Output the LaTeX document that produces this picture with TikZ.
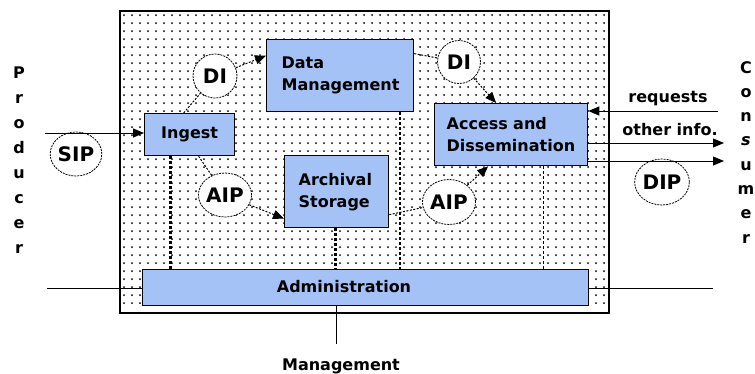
\documentclass[tikz,border=0pt]{standalone}
\usepackage{fontspec}
\setmainfont{DejaVu Sans}
\usetikzlibrary{arrows.meta,shapes.geometric,calc}
\definecolor{boxblue}{RGB}{164,194,246}

\begin{document}
\begin{tikzpicture}[x=1pt, y=-1pt, >={Triangle[length=11pt,width=9pt]},
    every node/.style={font=\fontsize{16}{22}\selectfont\bfseries},
    box/.style={draw, line width=1.3pt, fill=boxblue, anchor=north west, inner ysep=0pt, align=left},
    bub/.style={ellipse, draw, line width=0.8pt, dash pattern=on 2pt off 1pt, fill=white, inner sep=0pt,
      font=\fontsize{20}{24}\selectfont\bfseries},
    flow/.style={dash pattern=on 2pt off 1.5pt, line width=1pt},
    ctl/.style={line width=2.5pt, dash pattern=on 2.5pt off 2.5pt},
    letter/.style={anchor=base, font=\fontsize{16}{18}\selectfont\bfseries},
    wire/.style={line width=1pt}]
  \useasboundingbox (0,0) rectangle (755,373);
  % Archive frame with dot fill
  \fill[white] (120,11) rectangle (609,313);
  \foreach \x in {124,132,...,604}
    \foreach \y in {15,23,...,309}
      \fill[black] (\x,\y) circle (1pt);
  \draw[line width=1.8pt] (120,11) rectangle (609,313);
  % Functional entities
  \node[box, align=center, inner xsep=15pt, text width=60pt, minimum height=42pt] (ingest) at (144,113) {Ingest};
  \node[box, inner xsep=15pt, text width=117pt, minimum height=72pt] (dm) at (266,39) {Data\\Management};
  \node[box, inner xsep=14pt, text width=76pt, minimum height=72pt] (arch) at (284,155) {Archival\\Storage};
  \node[box, inner xsep=12pt, text width=129pt, minimum height=62pt] (acc) at (434,103) {Access and\\Dissemination};
  \node[box, inner sep=0pt, minimum width=446pt, minimum height=36pt] (adm) at (142,269) {};
  \node[anchor=base] (admlabel) at (344,292) {Administration};
  % Information packages
  \node[bub, minimum width=44pt, minimum height=44pt] (di1) at (215,76) {DI};
  \node[bub, minimum width=43pt, minimum height=43pt] (di2) at (459,62) {DI};
  \node[bub, minimum width=46pt, minimum height=44pt] (aip1) at (225,195) {AIP};
  \node[bub, minimum width=47pt, minimum height=45pt] (aip2) at (449,202) {AIP};
  \node[bub, minimum width=48pt, minimum height=44pt] (sip) at (76,154) {SIP};
  \node[bub, minimum width=50pt, minimum height=46pt] (dip) at (662,182) {DIP};
  % Data flows between entities
  \draw[flow] ([xshift=-6pt]ingest.north) -- (di1);
  \draw[flow,->] (di1) -- ([yshift=20pt]dm.west);
  \draw[flow] ([yshift=22pt]dm.east) -- (di2);
  \draw[flow,->] (di2) -- ([xshift=-15pt]acc.north);
  \draw[flow] ([xshift=9pt]ingest.south) -- (aip1);
  \draw[flow,->] (aip1) -- ([yshift=-27pt]arch.west);
  \draw[flow] ([yshift=-23pt]arch.east) -- (aip2);
  \draw[flow,->] (aip2) -- ([xshift=-23pt]acc.south);
  % Links down to administration
  \coordinate (c1) at ([xshift=-19pt]ingest.south);
  \coordinate (c2) at ([xshift=-1pt]arch.south);
  \coordinate (c3) at ([xshift=60pt]dm.south);
  \coordinate (c4) at ([xshift=32.5pt]acc.south);
  \draw[ctl] (c1) -- (c1 |- adm.north);
  \draw[ctl] (c2) -- (c2 |- adm.north);
  \draw[ctl] (c3) -- (c3 |- adm.north);
  \draw[line width=1.4pt, dash pattern=on 3pt off 2pt] (c4) -- (c4 |- adm.north);
  % Producer side
  \coordinate (prodin) at (45,133);
  \draw[wire,->] (prodin) -- (prodin -| ingest.west);
  \foreach \ch [count=\i from 0] in {P,r,o,d,u,c,e,r}
    \node[letter] (prod\i) at (19,78+25*\i) {\ch};
  % Consumer side
  \coordinate (reqin) at (718,111);
  \draw[wire,->] (reqin) -- (reqin -| acc.east);
  \node[anchor=base] (req) at (668,102) {requests};
  \coordinate (infout) at (724,143);
  \draw[wire,->] (infout -| acc.east) -- (infout);
  \node[anchor=base] (info) at (670,135) {other info.};
  \coordinate (dipout) at (724,161);
  \draw[wire,->] (dipout -| acc.east) -- (dipout);
  \foreach \ch [count=\i from 0] in {C,o,n,{\itshape s},u,m,e,r}
    \node[letter] (cons\i) at (746,73+24.3*\i) {\ch};
  % Management side
  \coordinate (admin) at (47,288);
  \draw[wire] (admin) -- (admin -| adm.west);
  \coordinate (admout) at (713,288);
  \draw[wire] (admout -| adm.east) -- (admout);
  \coordinate (mgmt) at (336,344);
  \draw[wire] (mgmt |- adm.south) -- (mgmt);
  \node[anchor=base] (mgmtlabel) at (341,370) {Management};
\end{tikzpicture}
\end{document}
